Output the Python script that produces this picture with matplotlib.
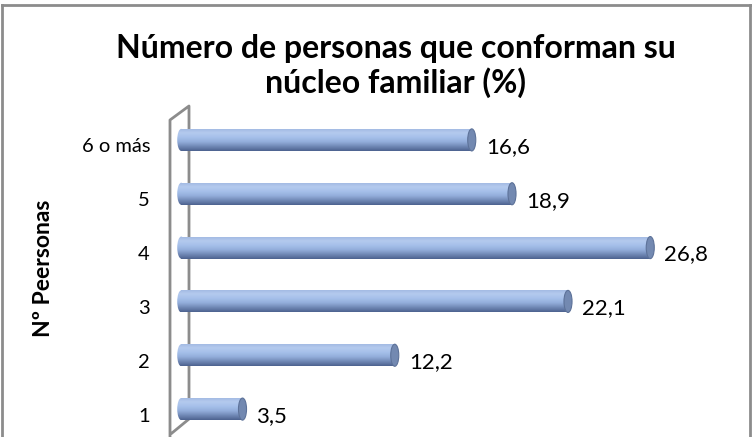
import matplotlib
matplotlib.use("Agg")
import matplotlib.pyplot as plt
import numpy as np
from matplotlib.colors import LinearSegmentedColormap
from matplotlib.patches import Ellipse
from matplotlib.lines import Line2D

categories = ["1", "2", "3", "4", "5", "6 o más"]
values = [3.5, 12.2, 22.1, 26.8, 18.9, 16.6]
value_labels = ["3,5", "12,2", "22,1", "26,8", "18,9", "16,6"]
title = "Número de personas que conforman su\nnúcleo familiar (%)"
ylabel = "Nº Peersonas"

W, H = 752, 437
plt.rcParams['font.family'] = ['Lato', 'DejaVu Sans']
fig = plt.figure(figsize=(W / 100, H / 100), dpi=100)

def fx(x):
    return x / W

def fy(y):
    return 1 - y / H

# figure border (top, left, right; bottom is cropped)
for (x0, y0, x1, y1) in [(2, 5, 751, 5), (2, 5, 2, 437), (750, 5, 750, 437)]:
    fig.add_artist(Line2D([fx(x0), fx(x1)], [fy(y0), fy(y1)], transform=fig.transFigure,
                          color="#8c8c8c", lw=2, zorder=-1))

# 3D wall outline (behind bars)
wall = [(170, 437), (170, 120), (189, 106), (189, 419), (172, 433)]
fig.add_artist(Line2D([fx(p[0]) for p in wall], [fy(p[1]) for p in wall],
                      transform=fig.transFigure, color="#8c8c8c", lw=2, zorder=-1))

px_per_unit = 17.5
ax_left, ax_right = 176, 751
ax = fig.add_axes([fx(ax_left), fy(436), (ax_right - ax_left) / W, (436 - 113) / H])
ax.patch.set_visible(False)
ax.axis("off")

cmap = LinearSegmentedColormap.from_list(
    "cyl", ["#4d6390", "#7189b6", "#93aedb", "#a6c0ea", "#b4caee", "#9fb7e0"])
grad = np.linspace(0, 1, 64).reshape(-1, 1)

ypos = np.arange(len(categories))
bh = 0.41
capw = 0.46
bars = ax.barh(ypos, values, height=bh, color="none", edgecolor="none")
for bar, v, y in zip(bars, values, ypos):
    im = ax.imshow(grad, cmap=cmap, aspect="auto", origin="lower",
                   extent=[0, v, y - bh / 2, y + bh / 2], zorder=2)
    im.set_clip_path(bar)
    le = Ellipse((0, y), capw, bh, facecolor="none", edgecolor="none")
    ax.add_patch(le)
    im2 = ax.imshow(grad, cmap=cmap, aspect="auto", origin="lower",
                    extent=[-capw / 2, capw / 2, y - bh / 2, y + bh / 2], zorder=2)
    im2.set_clip_path(le)
    ax.add_patch(Ellipse((v, y), capw, bh, facecolor="#7389b1", edgecolor="#5d7299",
                         lw=0.8, zorder=3))

ax.set_xlim(-0.3, (ax_right - ax_left) / px_per_unit - 0.3)
ax.set_ylim(-0.5, 5.5)

yoff = 0.13
for v, y, lab in zip(values, ypos, value_labels):
    ax.text(v + 14 / px_per_unit, y - yoff, lab, ha="left", va="center",
            fontsize=16, color="#000000")

for y, lab in zip(ypos, categories):
    ax.text(-26 / px_per_unit - 0.3, y - yoff, lab, ha="right", va="center",
            fontsize=14.5, color="#000000", clip_on=False)

fig.text(fx(396), fy(66), title, ha="center", va="center", fontsize=23,
         fontweight="bold", linespacing=1.2)
fig.text(fx(44), fy(268), ylabel, ha="center", va="center", rotation=90,
         fontsize=16.5, fontweight="bold")

fig.savefig("out.png", dpi=100)
